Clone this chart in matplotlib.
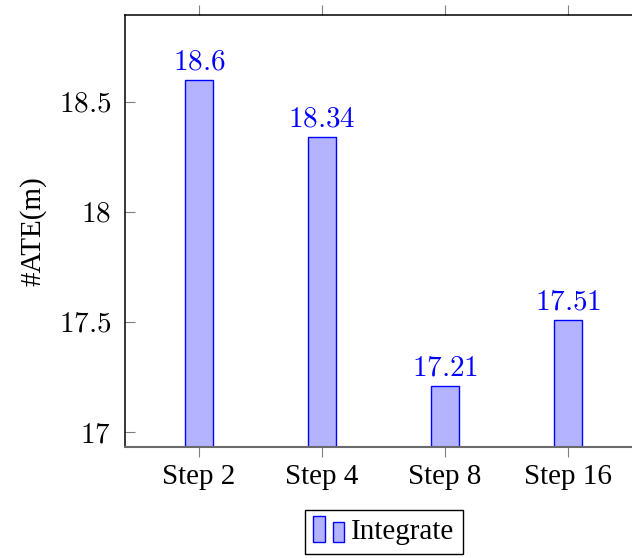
import matplotlib.pyplot as plt
from matplotlib.legend_handler import HandlerBase
from matplotlib.patches import Rectangle

steps = ["Step 2", "Step 4", "Step 8", "Step 16"]
ate = [18.6, 18.34, 17.21, 17.51]
yticks = [17, 17.5, 18, 18.5]

plt.rcParams["font.family"] = ["Liberation Serif", "DejaVu Serif"]
plt.rcParams["mathtext.fontset"] = "cm"

fill = "#b3b3ff"
edge = "#0000ff"
fs = 21


class TwoBars(HandlerBase):
    # ybar legend image: two small bars side by side
    def create_artists(self, legend, orig_handle, xdescent, ydescent,
                       width, height, fontsize, trans):
        w = width * 0.32
        r1 = Rectangle((-xdescent, -ydescent - 0.15 * height), w, height * 1.3,
                       facecolor=fill, edgecolor=edge, lw=1, transform=trans)
        r2 = Rectangle((-xdescent + width * 0.55, -ydescent - 0.15 * height), w, height * 1.0,
                       facecolor=fill, edgecolor=edge, lw=1, transform=trans)
        return [r1, r2]


fig = plt.figure(figsize=(6.32, 5.58), dpi=100)
ax = fig.add_axes([125 / 632, 1 - 447 / 558, (642 - 125) / 632, (447 - 15) / 558])

x = list(range(len(steps)))
bars = ax.bar(x, ate, width=0.228, color=fill, edgecolor=edge, linewidth=1,
              label="Integrate")

for xi, v in zip(x, ate):
    ax.annotate(f"${v:g}$", (xi, v), xytext=(0, 3), textcoords="offset points",
                ha="center", va="bottom", color=edge, fontsize=fs)

ax.set_xlim(-0.6, 3.6)
ax.set_ylim(16.932, 18.895)
ax.set_xticks(x)
ax.set_xticklabels(steps, fontsize=fs)
ax.set_yticks(yticks)
ax.set_yticklabels([f"${t:g}$" for t in yticks], fontsize=fs)
ax.set_ylabel("#ATE(m)", fontsize=fs, labelpad=9)

ax.tick_params(axis="x", direction="out", length=7.5, width=0.8, color="#808080",
               top=True, bottom=True, pad=5)
ax.tick_params(axis="y", direction="in", length=7.5, width=0.8, color="#808080",
               left=True, right=True, pad=10)
for s in ax.spines.values():
    s.set_linewidth(1.1)
    s.set_color("black")
ax.spines["bottom"].set_color("#6a6a6a")
ax.spines["bottom"].set_linewidth(1.5)

fig.legend(handles=[bars], labels=["Integrate"], handler_map={type(bars): TwoBars()},
           loc="upper center", bbox_to_anchor=(384 / 632, 1 - 510 / 558),
           borderaxespad=0, fontsize=fs, frameon=True, fancybox=False,
           edgecolor="black", framealpha=1, handlelength=1.2, handletextpad=0.1,
           borderpad=0.3)

fig.savefig("out.png", dpi=100)
